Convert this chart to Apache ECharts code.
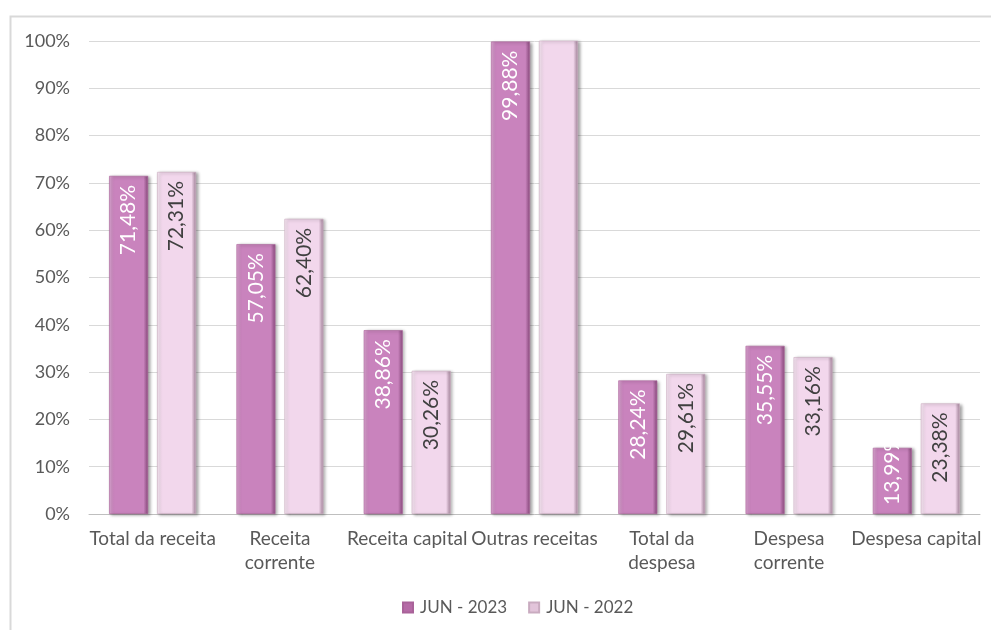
<!DOCTYPE html>
<html>
<head>
<meta charset="utf-8">
<script src="https://cdn.jsdelivr.net/npm/echarts@6/dist/echarts.min.js"></script>
<style>
  html, body { margin: 0; padding: 0; background: #fff; }
  #chart { width: 991px; height: 630px; }
</style>
</head>
<body>
<div id="chart"></div>
<script>
// Execution of revenue and expense, June 2023 vs June 2022 (percent)
const categories = [
  'Total da receita',
  'Receita\ncorrente',
  'Receita capital',
  'Outras receitas',
  'Total da\ndespesa',
  'Despesa\ncorrente',
  'Despesa capital'
];
const seriesNames = ['JUN - 2023', 'JUN - 2022'];
const values2023 = [71.48, 57.05, 38.86, 99.88, 28.24, 35.55, 13.99];
const values2022 = [72.31, 62.40, 30.26, 105.00, 29.61, 33.16, 23.38];
const hiddenLabels2022 = [3]; // bar runs past the top of the axis
const yTicks = { min: 0, max: 100, step: 10 };

const fontFamily = 'Lato, "Open Sans", sans-serif';
const shortBar = 15; // labels on bars below this start from the base

function fmtPct(v) {
  return v.toFixed(2).replace('.', ',') + '%';
}

function barGradient(edge, mid, light) {
  return new echarts.graphic.LinearGradient(0, 0, 1, 0, [
    { offset: 0, color: light },
    { offset: 0.12, color: mid },
    { offset: 0.88, color: mid },
    { offset: 0.96, color: edge },
    { offset: 1, color: edge }
  ]);
}

const color2023 = barGradient('#9a5a8e', '#c983bd', '#dba6d1');
const color2022 = barGradient('#b89ab0', '#f2d7ec', '#f8e8f4');

function barData(values, hidden) {
  return values.map((v, i) => {
    if (hidden.includes(i)) return { value: v, label: { show: false } };
    if (v < shortBar) return { value: v, label: { position: 'insideBottom', align: 'left' } };
    return { value: v };
  });
}

function valueLabel(color) {
  return {
    show: true,
    position: 'insideTop',
    rotate: 90,
    align: 'right',
    verticalAlign: 'middle',
    distance: 9,
    color: color,
    fontSize: 21,
    fontFamily: fontFamily,
    formatter: p => fmtPct(p.data.value)
  };
}

function barStyle(fill, border) {
  return {
    color: fill,
    borderColor: border,
    borderWidth: 0.6,
    shadowColor: 'rgba(0,0,0,0.35)',
    shadowBlur: 3,
    shadowOffsetX: 2,
    shadowOffsetY: 1
  };
}

const chart = echarts.init(document.getElementById('chart'), null, { renderer: 'canvas' });

chart.setOption({
  animation: false,
  backgroundColor: '#ffffff',
  graphic: [{
    type: 'rect',
    shape: { x: 10.5, y: 16.5, width: 1000, height: 700 },
    style: { fill: 'none', stroke: '#d9d9d9', lineWidth: 2 },
    silent: true,
    z: -1
  }],
  grid: { left: 89, right: 11, top: 41, bottom: 116, containLabel: false },
  legend: {
    bottom: 9,
    left: 397,
    itemWidth: 10,
    itemHeight: 10,
    itemGap: 21,
    icon: 'rect',
    textStyle: { color: '#595959', fontSize: 17, fontFamily: fontFamily, padding: [0, 0, 0, 2] },
    data: [
      { name: seriesNames[0], itemStyle: { color: '#b56aa6' } },
      { name: seriesNames[1], itemStyle: { color: '#e2c4da' } }
    ]
  },
  xAxis: {
    type: 'category',
    data: categories,
    axisTick: { show: false },
    axisLine: { lineStyle: { color: '#bfbfbf', width: 1 } },
    axisLabel: {
      color: '#595959',
      fontSize: 19,
      fontFamily: fontFamily,
      margin: 13,
      lineHeight: 24,
      interval: 0
    }
  },
  yAxis: {
    type: 'value',
    min: yTicks.min,
    max: yTicks.max,
    interval: yTicks.step,
    axisLine: { show: false },
    axisTick: { show: false },
    splitLine: { lineStyle: { color: '#d9d9d9', width: 1 } },
    axisLabel: {
      color: '#595959',
      fontSize: 18,
      fontFamily: fontFamily,
      margin: 19,
      formatter: '{value}%'
    }
  },
  series: [
    {
      name: seriesNames[0],
      type: 'bar',
      data: barData(values2023, []),
      barWidth: 39,
      barGap: '23%',
      clip: true,
      itemStyle: barStyle(color2023, '#a96299'),
      label: valueLabel('#ffffff')
    },
    {
      name: seriesNames[1],
      type: 'bar',
      data: barData(values2022, hiddenLabels2022),
      barWidth: 39,
      clip: true,
      itemStyle: barStyle(color2022, '#c9abc0'),
      label: valueLabel('#404040')
    }
  ]
});
</script>
</body>
</html>
